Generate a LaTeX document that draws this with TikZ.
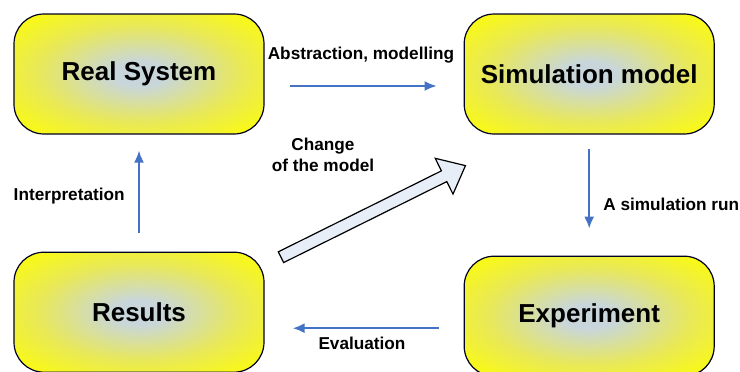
\documentclass[tikz,border=0pt]{standalone}
\usepackage{fontspec}
\setmainfont{Liberation Sans}
\usetikzlibrary{calc,
shapes.arrows,
arrows.meta,
positioning}

\definecolor{glowc}{RGB}{200,214,220}
\definecolor{midyellow}{RGB}{232,232,90}
\definecolor{boxyellow}{RGB}{252,252,10}
\definecolor{flowblue}{RGB}{68,114,196}
\definecolor{hollowc}{RGB}{232,238,248}
\pgfdeclareradialshading{boxglow}{\pgfpoint{0bp}{0bp}}{color(0bp)=(glowc); color(5bp)=(glowc); color(20bp)=(midyellow); color(34bp)=(boxyellow); color(50bp)=(boxyellow)}

\begin{document}
\begin{tikzpicture} [x=0.5pt, y=-0.5pt,
        >=Latex,
        main node/.style={rectangle, rounded corners=15pt,
                draw=black!85!blue, line width=0.6pt, shading=boxglow,
                minimum width=125pt, minimum height=60pt,
                font=\fontsize{13}{15}\selectfont\bfseries},
        flow/.style={-{Latex[length=6pt,width=5pt]}, draw=flowblue, line width=1pt},
        leg/.style={font=\fontsize{8.6}{10.5}\selectfont\bfseries, align=center}]

    \useasboundingbox (0,0) rectangle (740,371);

    \node [main node] (real) at (139,74) {Real System};

    \node [
        main node,
        right = 99.5pt of real
    ] (sim) {Simulation model};

    \node [
        main node,
        below = 58.5pt of real
    ] (res) {Results};

    \node [
        main node,
        below = 60.5pt of sim
    ] (exp) {Experiment};

    % blue connectors
    \draw [flow, shorten <=12.5pt, shorten >=13.5pt] ([yshift=-6pt]real.east) -- ([yshift=-6pt]sim.west);
    \draw [flow, shorten <=7pt, shorten >=13.5pt] (sim) -- (exp);
    \draw [flow, shorten <=12.5pt, shorten >=14pt] ([yshift=-6pt]exp.west) -- ([yshift=-6pt]exp.west -| res.east);
    \draw [flow, shorten <=9.5pt, shorten >=8pt] (res) -- (real);

    \node [leg] (abs_leg) at (361,55) {Abstraction, modelling};
    \node [leg, anchor=west, inner xsep=0pt] (run_leg) at (603,204) {A simulation run};
    \node [leg] (eval_leg) at (362,343) {Evaluation};
    \node [leg, anchor=east, inner xsep=0pt] (int_leg) at (125,196) {Interpretation};

    % hollow arrow
    \node [
        single arrow,
        draw,
        line width=0.6pt,
        fill = hollowc,
        inner sep = 2.7pt,
        minimum height = 103pt,
        minimum width = 20pt,
        single arrow head extend = 7pt,
        single arrow tip angle = 80,
        rotate = 26.4
    ] (chg) at (370,213) {};

    \node [leg] (chg_leg) at (323,155) {Change\\of the model};

\end{tikzpicture}
\end{document}
